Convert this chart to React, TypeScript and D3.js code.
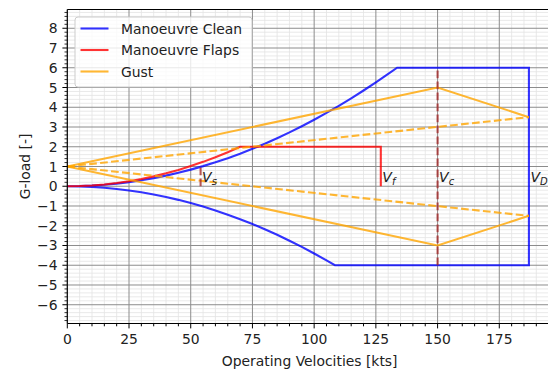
import React from 'react';
import * as d3 from 'd3';

// manoeuvre envelope, clean configuration (positive side, then VD, then negative side)
const cleanV = [0, 5, 10, 15, 20, 25, 30, 35, 40, 45, 50, 55, 60, 65, 70, 75, 80, 85, 90, 95, 100, 105, 110, 115, 120, 125, 130, 133.6,
  187, 187, 108.4, 105, 100, 95, 90, 85, 80, 75, 70, 65, 60, 55, 50, 45, 40, 35, 30, 25, 20, 15, 10, 5, 0];
const cleanN = [0, 0.008, 0.034, 0.076, 0.135, 0.21, 0.303, 0.412, 0.539, 0.682, 0.842, 1.019, 1.212, 1.423, 1.65, 1.894, 2.155, 2.433, 2.727, 3.039, 3.367, 3.712, 4.074, 4.453, 4.848, 5.261, 5.69, 6.0,
  6.0, -4.0, -4.0, -3.753, -3.404, -3.072, -2.757, -2.459, -2.179, -1.915, -1.668, -1.438, -1.225, -1.03, -0.851, -0.689, -0.545, -0.417, -0.306, -0.213, -0.136, -0.077, -0.034, -0.008, 0];

// manoeuvre envelope, flaps
const flapsV = [0, 5, 10, 15, 20, 25, 30, 35, 40, 45, 50, 55, 60, 65, 70, 127, 127];
const flapsN = [0, 0.01, 0.041, 0.092, 0.163, 0.255, 0.367, 0.5, 0.653, 0.826, 1.02, 1.235, 1.469, 1.724, 2.0, 2.0, 0];

// gust lines
const gustUpperV = [0, 150, 187];
const gustUpperN = [1, 5, 3.5];
const gustLowerV = [0, 150, 187];
const gustLowerN = [1, -3, -1.5];
const gustDashUpperV = [0, 187];
const gustDashUpperN = [1, 3.5];
const gustDashLowerV = [0, 187];
const gustDashLowerN = [1, -1.5];

// characteristic speeds
const speedNames = ['s', 'f', 'c', 'D'];
const speedValues = [54, 127, 150, 187];

const xTicks = [0, 25, 50, 75, 100, 125, 150, 175];
const yTicks = [-6, -5, -4, -3, -2, -1, 0, 1, 2, 3, 4, 5, 6, 7, 8];
const legendNames = ['Manoeuvre Clean', 'Manoeuvre Flaps', 'Gust'];
const legendColors = ['blue', 'red', 'orange'];

const W = 548;
const H = 371;
const left = 67.3, right = 552, top = 9.5, bottom = 323.5;
const font = 'DejaVu Sans, sans-serif';

const App = () => {
  const x = d3.scaleLinear().domain([0, 196.35]).range([left, right]);
  const y = d3.scaleLinear().domain([-6.95, 8.95]).range([bottom, top]);

  const line = d3.line<[number, number]>().x(d => x(d[0])).y(d => y(d[1]));
  const pts = (vs: number[], ns: number[]) => vs.map((v, i) => [v, ns[i]] as [number, number]);

  const xMinor = d3.range(0, 197, 5).filter(v => v % 25 !== 0);
  const yMinor = d3.range(-34, 45).map(k => k / 5).filter(v => Math.abs(v - Math.round(v)) > 1e-6);

  const dash = '7.7,3.3';

  return (
    <svg width={W} height={H} style={{ position: 'absolute', left: 0, top: 0, background: 'white' }}>
      <defs>
        <clipPath id="plot">
          <rect x={left} y={top} width={right - left} height={bottom - top} />
        </clipPath>
      </defs>

      {/* minor grid */}
      <g stroke="#e3e3e3" strokeWidth={0.8}>
        {xMinor.map(v => <line key={'xm' + v} x1={x(v)} x2={x(v)} y1={top} y2={bottom} />)}
        {yMinor.map(v => <line key={'ym' + v} x1={left} x2={right} y1={y(v)} y2={y(v)} />)}
      </g>
      {/* major grid */}
      <g stroke="#8c8c8c" strokeWidth={1}>
        {xTicks.map(v => <line key={'xg' + v} x1={x(v)} x2={x(v)} y1={top} y2={bottom} />)}
        {yTicks.map(v => <line key={'yg' + v} x1={left} x2={right} y1={y(v)} y2={y(v)} />)}
      </g>

      <g clipPath="url(#plot)" fill="none" strokeWidth={2.1} strokeLinejoin="miter">
        <path d={line(pts(cleanV, cleanN)) || ''} stroke="blue" strokeOpacity={0.8} />
        <path d={line(pts(flapsV, flapsN)) || ''} stroke="red" strokeOpacity={0.8} />
        <path d={line(pts(gustUpperV, gustUpperN)) || ''} stroke="orange" strokeOpacity={0.8} />
        <path d={line(pts(gustLowerV, gustLowerN)) || ''} stroke="orange" strokeOpacity={0.8} />
        <path d={line(pts(gustDashUpperV, gustDashUpperN)) || ''} stroke="orange" strokeOpacity={0.8} strokeDasharray={dash} />
        <path d={line(pts(gustDashLowerV, gustDashLowerN)) || ''} stroke="orange" strokeOpacity={0.8} strokeDasharray={dash} />
        <path d={line([[speedValues[2], -4], [speedValues[2], 6]]) || ''} stroke="brown" strokeOpacity={0.8} strokeDasharray={dash} />
        <path d={line([[speedValues[0], 0], [speedValues[0], 1]]) || ''} stroke="brown" strokeOpacity={0.8} strokeDasharray={dash} />
      </g>

      {/* speed labels */}
      {speedNames.map((s, i) => (
        <text key={s} x={x(speedValues[i]) + 1.5} y={y(0) - 3.8} fontFamily={font} fontSize={14} fill="#222">
          <tspan fontStyle="italic">V</tspan>
          <tspan fontStyle="italic" fontSize={10} dy={3}>{s}</tspan>
        </text>
      ))}

      {/* spines */}
      <g stroke="#000" strokeWidth={1.1} fill="none">
        <line x1={left} x2={left} y1={top} y2={bottom} />
        <line x1={left} x2={right} y1={bottom} y2={bottom} />
        <line x1={left} x2={right} y1={top} y2={top} />
        <line x1={right} x2={right} y1={top} y2={bottom} />
      </g>

      {/* ticks */}
      <g stroke="#000" strokeWidth={1}>
        {xTicks.map(v => <line key={'xt' + v} x1={x(v)} x2={x(v)} y1={bottom} y2={bottom + 4.9} />)}
        {xMinor.map(v => <line key={'xmt' + v} x1={x(v)} x2={x(v)} y1={bottom} y2={bottom + 2.8} />)}
        {yTicks.map(v => <line key={'yt' + v} x1={left - 4.9} x2={left} y1={y(v)} y2={y(v)} />)}
        {yMinor.map(v => <line key={'ymt' + v} x1={left - 2.8} x2={left} y1={y(v)} y2={y(v)} strokeWidth={0.8} />)}
      </g>
      <g fontFamily={font} fontSize={13.9} fill="#222">
        {xTicks.map(v => (
          <text key={'xl' + v} x={x(v)} y={bottom + 9.8} dy="0.76em" textAnchor="middle">{v}</text>
        ))}
        {yTicks.map(v => (
          <text key={'yl' + v} x={left - 9.8} y={y(v)} dy="0.36em" textAnchor="end">{d3.format('')(v).replace('-', '\u2212')}</text>
        ))}
        <text x={(left + right) / 2} y={366} textAnchor="middle">Operating Velocities [kts]</text>
        <text transform={`translate(25,${(top + bottom) / 2}) rotate(-90)`} textAnchor="middle" dy="0.36em">G-load [-]</text>
      </g>

      {/* legend */}
      <g fontFamily={font} fontSize={13.9} fill="#222">
        <rect x={75} y={17} width={177} height={70} rx={3} fill="white" fillOpacity={0.8} stroke="#cccccc" strokeWidth={1} />
        {legendNames.map((name, i) => (
          <g key={name} transform={`translate(0,${28.5 + i * 21.5})`}>
            <line x1={80.5} x2={108.5} y1={0} y2={0} stroke={legendColors[i]} strokeOpacity={0.8} strokeWidth={2.1} />
            <text x={121} y={0} dy="0.36em">{name}</text>
          </g>
        ))}
      </g>
    </svg>
  );
};

export default App;
